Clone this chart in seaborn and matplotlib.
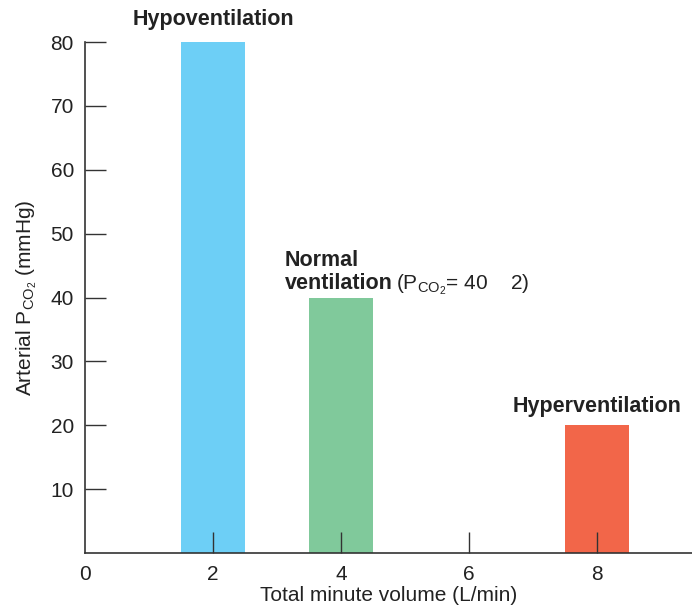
import matplotlib

matplotlib.use("Agg")

import matplotlib.pyplot as plt
import pandas as pd
import seaborn as sns

# data
volumes = [2, 4, 8]
pco2 = [80, 40, 20]
labels = ["Hypoventilation", "Normal\nventilation", "Hyperventilation"]
colors = ["#6dcff6", "#80c99b", "#f26649"]
x_ticks = [0, 2, 4, 6, 8]
y_ticks = [10, 20, 30, 40, 50, 60, 70, 80]

sns.set_style("white")
plt.rcParams["font.family"] = ["Liberation Sans", "DejaVu Sans"]
plt.rcParams["mathtext.fontset"] = "custom"
plt.rcParams["mathtext.rm"] = "Liberation Sans"

df = pd.DataFrame({"volume": volumes, "pco2": pco2, "state": labels})

fig = plt.figure(figsize=(6.92, 6.10), dpi=100)
ax = fig.add_axes([85 / 692, 57 / 610, 607 / 692, 511 / 610])

sns.barplot(
    data=df, x="volume", y="pco2", hue="state", palette=colors,
    native_scale=True, width=0.5, legend=False, ax=ax, saturation=1,
    linewidth=0,
)

ax.set_xlim(0, 607 / 64)
ax.set_ylim(0, 80)
ax.set_axisbelow(False)  # tick marks sit on top of the bars
sns.despine(ax=ax)
for side in ("left", "bottom"):
    ax.spines[side].set_color("#333333")
    ax.spines[side].set_linewidth(1.2)

ax.set_xticks(x_ticks)
ax.set_yticks(y_ticks)
ax.tick_params(axis="both", direction="in", length=15, width=1, color="#333333",
               labelsize=15, labelcolor="#222222", bottom=True, left=True)
ax.tick_params(axis="y", pad=8)
ax.tick_params(axis="x", pad=9)
# no tick mark at the origin, only its label
ax.xaxis.get_major_ticks()[0].tick1line.set_visible(False)

ax.set_xlabel("Total minute volume (L/min)", fontsize=15, color="#222222", labelpad=1)
ax.set_ylabel(r"Arterial $\mathregular{P_{CO_2}}$ (mmHg)", fontsize=15, color="#222222", labelpad=8)

bold = dict(fontsize=15.5, fontweight="bold", color="#222222", clip_on=False)
ax.text(volumes[0], 82.6, labels[0], ha="center", va="baseline", **bold)
ax.text(3.12, 41.3, labels[1], ha="left", va="baseline", linespacing=1.15, **bold)
ax.text(4.86, 41.3, r"($\mathregular{P_{CO_2}}$= 40    2)", ha="left", va="baseline",
        fontsize=15, color="#222222")
ax.text(volumes[2], 22.0, labels[2], ha="center", va="baseline", **bold)

fig.savefig("out.png", dpi=100)
